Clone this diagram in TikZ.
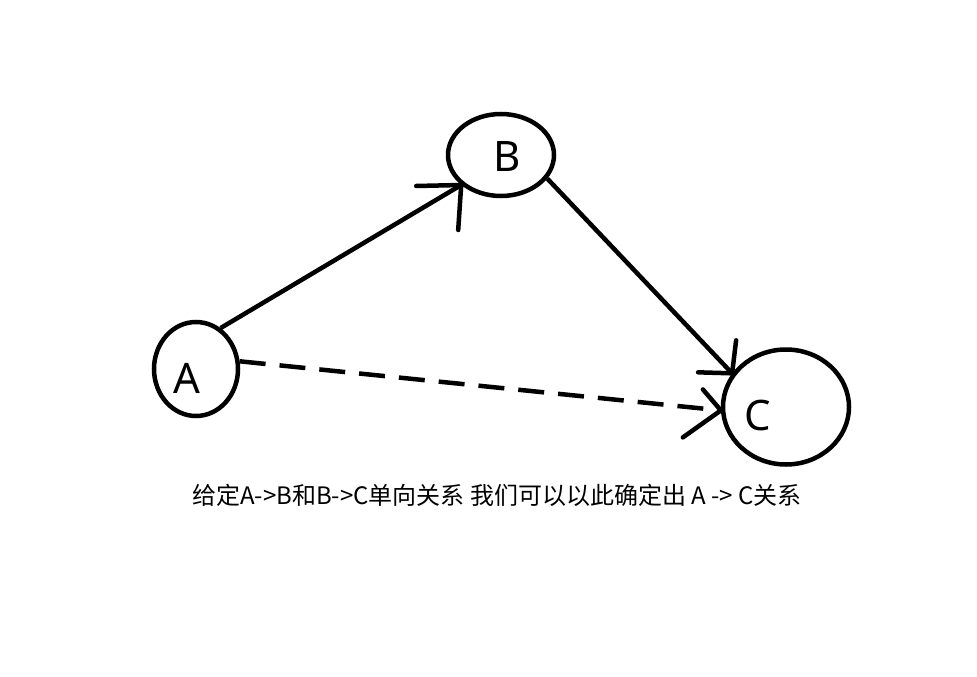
\documentclass[tikz,border=0pt]{standalone}
\usepackage{fontspec}
\setmainfont{Noto Sans}
\newfontfamily\cjk{Noto Sans CJK SC}
\usetikzlibrary{shapes.geometric}
\begin{document}
\begin{tikzpicture}[x=1pt,y=-1pt,
  circ/.style={ellipse,draw,line width=4.5pt,inner sep=0pt},
  lbl/.style={inner sep=0pt,font=\fontsize{42}{42}\selectfont},
  conn/.style={line width=4.5pt},
  dconn/.style={line width=4.5pt,dash pattern=on 26pt off 14pt},
  barb/.style={line width=4.5pt,line cap=round}]
\useasboundingbox[fill=white] (0,0) rectangle (977,677);
\node[circ,minimum width=84pt,minimum height=94pt] (A) at (196,369) {};
\node[circ,minimum width=106pt,minimum height=82pt] (B) at (501,155) {};
\node[circ,minimum width=126pt,minimum height=115pt] (C) at (786,407) {};
\node[lbl] (Al) at (187,378) {A};
\node[lbl] (Bl) at (507,157) {B};
\node[lbl] (Cl) at (758,416) {C};
% A -> B
\coordinate (tAB) at (B.217);
\draw[conn] (A.59) -- (tAB);
\draw[barb] (tAB) -- ++(-45,1);
\draw[barb] (tAB) -- ++(-3,45);
% B -> C
\coordinate (tBC) at (C.148);
\draw[conn] (B.333) -- (tBC);
\draw[barb] (tBC) -- ++(-34,-1);
\draw[barb] (tBC) -- ++(4,-33);
% A -> C dashed
\coordinate (tAC) at (C.183);
\draw[dconn] (A.10) -- (tAC);
\draw[barb] (tAC) -- ++(-18,-21);
\draw[barb] (tAC) -- ++(-38,27);
\node[inner sep=0pt,font=\cjk\fontsize{24}{24}\selectfont] (cap) at (497,495) {给定A->B和B->C单向关系 我们可以以此确定出 A -> C关系};
\end{tikzpicture}
\end{document}
